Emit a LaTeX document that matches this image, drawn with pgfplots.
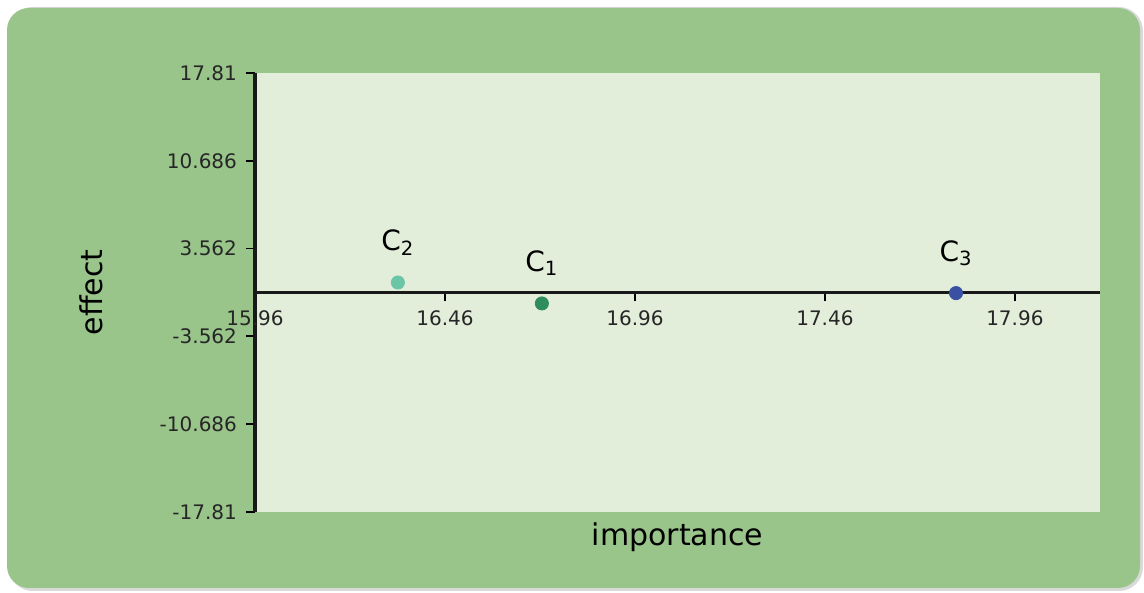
\documentclass[border=0pt]{standalone}
\usepackage{fontspec}
\setmainfont{DejaVu Sans}
\usepackage{pgfplots}
\pgfplotsset{compat=1.18}
\definecolor{panel}{HTML}{99C58A}
\definecolor{plotbg}{HTML}{E3EEDA}
\definecolor{cone}{HTML}{2F8C5C}
\definecolor{ctwo}{HTML}{6AC6A6}
\definecolor{cthree}{HTML}{3A50A2}
\begin{document}
\begin{tikzpicture}[x=0.5pt,y=0.5pt]
% page and rounded panel
\fill[white] (0,0) rectangle (1144,593);
\fill[gray!30,rounded corners=12pt] (9,2) rectangle (1143,586);
\fill[panel,rounded corners=11pt] (7,5) rectangle (1140,585);
\begin{axis}[
  at={(127.5pt,40.5pt)}, anchor=south west,
  width=422.5pt, height=219.5pt, scale only axis,
  xmin=15.96, xmax=18.184, ymin=-17.81, ymax=17.81,
  axis x line=middle, axis y line=left,
  axis line style={-, black!90, line width=1.7pt},
  every inner x axis line/.append style={-, black!90, line width=1.7pt},
  every outer y axis line/.append style={-},
  axis background/.style={fill=plotbg},
  hide obscured x ticks=false,
  xtick={15.96,16.46,16.96,17.46,17.96},
  xticklabels={15.96,16.46,16.96,17.46,17.96},
  ytick={-17.81,-10.686,-3.562,3.562,10.686,17.81},
  yticklabels={-17.81,-10.686,-3.562,3.562,10.686,17.81},
  tick align=outside, major tick length=4.5pt,
  tick style={black, line width=0.9pt},
  ticklabel style={font=\fontsize{10}{12}\selectfont, text=black!85},
  xticklabel style={yshift=-1pt},
  yticklabel style={xshift=-1pt},
  xlabel={importance}, ylabel={effect},
  xlabel style={at={(axis description cs:0.5,-0.0752)}, anchor=base, font=\fontsize{15}{18}\selectfont},
  ylabel style={at={(axis description cs:-0.1799,0.5)}, anchor=base, rotate=0, font=\fontsize{15}{18}\selectfont},
  clip=false,
  every node near coord/.append style={anchor=base, yshift=16pt, text=black, font=\fontsize{14}{16}\selectfont},
]
\addplot[only marks, mark=*, mark size=3.3pt, ctwo, nodes near coords={C\textsubscript{2}}] coordinates {(16.336,0.81)};
\addplot[only marks, mark=*, mark size=3.3pt, cone, nodes near coords={C\textsubscript{1}}] coordinates {(16.715,-0.89)};
\addplot[only marks, mark=*, mark size=3.3pt, cthree, nodes near coords={C\textsubscript{3}}] coordinates {(17.805,-0.05)};
\end{axis}
\end{tikzpicture}
\end{document}
